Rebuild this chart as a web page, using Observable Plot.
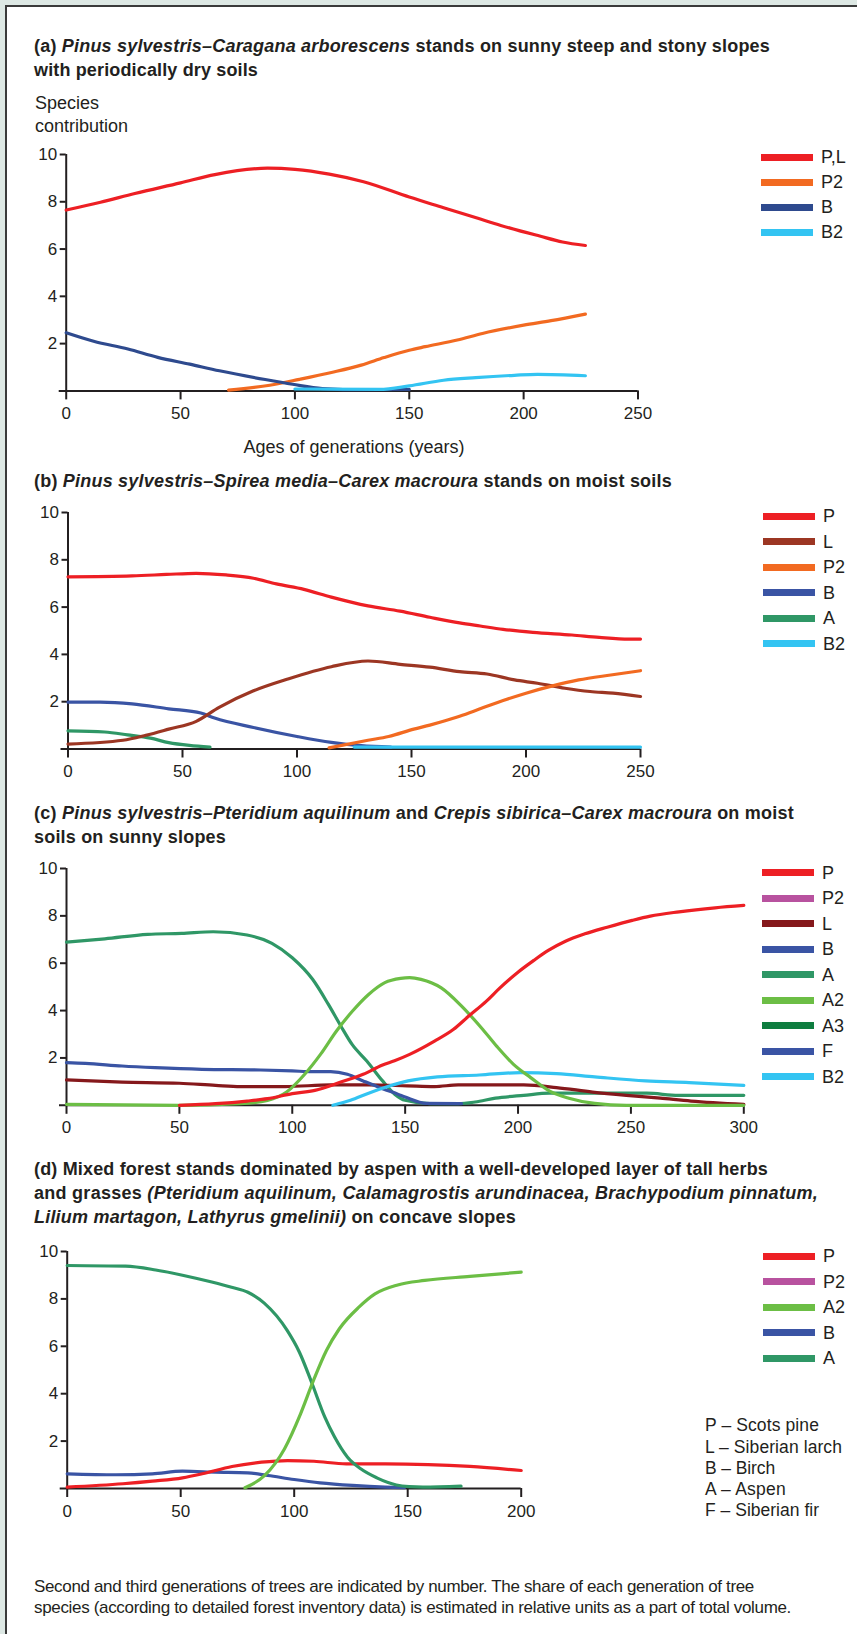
<!DOCTYPE html>
<html><head><meta charset="utf-8">
<script src="https://cdn.jsdelivr.net/npm/d3@7"></script>
<script src="https://cdn.jsdelivr.net/npm/@observablehq/plot@0.6"></script>
<style>
html,body{margin:0;padding:0;}
body{width:857px;height:1634px;background:#dde8e4;position:relative;overflow:hidden;font-family:"Liberation Sans",Arial,Helvetica,sans-serif;color:#231f20;}
#frame{position:absolute;left:5px;top:5px;width:900px;height:1700px;background:#fff;border-left:2px solid #3a3a3a;border-top:2px solid #3a3a3a;}
.abs{position:absolute;white-space:nowrap;}
.title{font-weight:bold;font-size:18px;line-height:24px;left:34px;}
.title span,.cap span,.key span{display:inline-block;white-space:nowrap;}
.lab{font-size:18px;line-height:23px;}
.cap{font-size:17px;line-height:21px;left:34px;}
.key{font-size:17.5px;line-height:21.3px;left:705px;}
.leg{position:absolute;font-size:18px;line-height:20px;height:20px;}
.leg .sw{position:absolute;left:0;top:6.5px;width:52px;height:7px;}
.leg .tx{position:absolute;left:60px;top:0;}
svg{overflow:visible;}
</style>
</head><body>
<div id="frame"></div>

<div class="abs title" style="top:34px"><span data-w="736">(a) <i>Pinus sylvestris–Caragana arborescens</i> stands on sunny steep and stony slopes</span><br><span data-w="224">with periodically dry soils</span></div>
<div class="abs lab" style="left:35px;top:91.5px">Species<br>contribution</div>
<div class="abs lab" style="left:354px;top:435.5px;transform:translateX(-50%)">Ages of generations (years)</div>

<div class="abs title" style="top:468.7px"><span data-w="638">(b) <i>Pinus sylvestris–Spirea media–Carex macroura</i> stands on moist soils</span></div>

<div class="abs title" style="top:801px"><span data-w="760">(c) <i>Pinus sylvestris–Pteridium aquilinum</i> and <i>Crepis sibirica–Carex macroura</i> on moist</span><br><span data-w="192">soils on sunny slopes</span></div>

<div class="abs title" style="top:1157px"><span data-w="734">(d) Mixed forest stands dominated by aspen with a well-developed layer of tall herbs</span><br><span data-w="784">and grasses <i>(Pteridium aquilinum, Calamagrostis arundinacea, Brachypodium pinnatum,</i></span><br><span data-w="482"><i>Lilium martagon, Lathyrus gmelinii)</i> on concave slopes</span></div>

<div class="abs key" style="top:1415.3px"><span data-w="114">P – Scots pine</span><br><span data-w="137">L – Siberian larch</span><br><span data-w="70">B – Birch</span><br><span data-w="81">A – Aspen</span><br><span data-w="114">F – Siberian fir</span></div>

<div class="abs cap" style="top:1576.2px"><span data-w="720">Second and third generations of trees are indicated by number. The share of each generation of tree</span><br><span data-w="757">species (according to detailed forest inventory data) is estimated in relative units as a part of total volume.</span></div>

<script>
// ---------------- DATA ----------------
const yTicks = [2, 4, 6, 8, 10];

// (a)
const namesA = ["P,L", "P2", "B", "B2"];
const colorsA = ["#ed1f24", "#f26a21", "#2e4a8e", "#33c4f2"];
const xTicksA = [0, 50, 100, 150, 200, 250];
const a_PL = [[0,7.65],[15,7.98],[30,8.35],[50,8.8],[65,9.15],[88,9.42],[100,9.37],[115,9.17],[130,8.85],[150,8.2],[165,7.75],[180,7.3],[190,7.0],[207,6.55],[217,6.3],[227,6.15]];
const a_P2 = [[71,0.03],[89,0.24],[102,0.49],[116,0.78],[129,1.09],[139,1.41],[150,1.72],[157,1.87],[171,2.15],[182,2.43],[200,2.78],[212,2.97],[227,3.25]];
const a_B = [[0,2.46],[12,2.1],[27,1.77],[40,1.42],[54,1.13],[67,0.85],[87,0.48],[99,0.28],[112,0.1],[130,0.05],[150,0.06]];
const a_B2 = [[100,0.08],[137,0.06],[150,0.21],[165,0.45],[179,0.56],[196,0.66],[206,0.7],[227,0.64]];

// (b)
const namesB = ["P", "L", "P2", "B", "A", "B2"];
const colorsB = ["#ed1f24", "#9c3623", "#f26a21", "#3a54a4", "#2f9766", "#33c4f2"];
const xTicksB = [0, 50, 100, 150, 200, 250];
const b_P = [[0,7.28],[28,7.32],[43,7.38],[56,7.43],[69,7.36],[81,7.22],[91,6.98],[103,6.75],[115,6.42],[131,6.05],[145,5.83],[158,5.57],[171,5.33],[180,5.2],[190,5.06],[203,4.93],[220,4.82],[232,4.72],[245,4.65],[250,4.65]];
const b_L = [[0,0.21],[24,0.37],[34,0.58],[44,0.84],[56,1.17],[66,1.76],[81,2.46],[96,2.96],[115,3.48],[131,3.72],[145,3.58],[158,3.46],[171,3.27],[183,3.17],[195,2.92],[205,2.78],[217,2.57],[228,2.43],[238,2.36],[250,2.22]];
const b_P2 = [[114,0.05],[131,0.37],[140,0.53],[151,0.84],[158,1.01],[170,1.35],[178,1.63],[190,2.05],[200,2.36],[212,2.68],[223,2.92],[237,3.13],[250,3.31]];
const b_B = [[0,1.98],[14,1.98],[28,1.91],[44,1.7],[58,1.52],[64,1.31],[81,0.91],[100,0.53],[115,0.28],[128,0.14],[141,0.08]];
const b_A = [[0,0.77],[16,0.72],[26,0.6],[36,0.46],[44,0.27],[53,0.15],[62,0.08]];
const b_B2 = [[125,0.08],[250,0.08]];

// (c)
const namesC = ["P", "P2", "L", "B", "A", "A2", "A3", "F", "B2"];
const colorsC = ["#ed1f24", "#b8529f", "#85181b", "#3a54a4", "#2f9766", "#6cbe45", "#0e7d3f", "#3a54a4", "#33c4f2"];
const xTicksC = [0, 50, 100, 150, 200, 250, 300];
const c_P = [[50,0],[66,0.07],[80,0.18],[89,0.28],[100,0.49],[110,0.63],[121.5,0.98],[131.4,1.31],[140,1.7],[145.3,1.88],[152,2.15],[163,2.71],[171.3,3.2],[178.2,3.77],[186,4.4],[192,4.96],[199.7,5.6],[207,6.12],[213.4,6.54],[221,6.93],[229.6,7.24],[239.5,7.52],[250.6,7.81],[258.6,7.99],[271.3,8.17],[287.3,8.34],[300,8.44]];
const c_L = [[0,1.07],[24.6,0.98],[50,0.93],[66,0.84],[77,0.79],[97,0.79],[117,0.86],[134,0.86],[151,0.82],[163,0.79],[173.5,0.86],[202.5,0.86],[217,0.75],[233,0.56],[248,0.42],[263,0.3],[276.6,0.18],[300,0.04]];
const c_B = [[0,1.8],[8.4,1.77],[24.6,1.66],[39.3,1.59],[60,1.52],[86,1.49],[100,1.45],[109,1.42],[117,1.42],[124.4,1.31],[131.4,1.03],[140,0.7],[147,0.46],[150,0.35],[159.4,0.08],[175,0.07]];
const c_A = [[0,6.89],[17,7.03],[36,7.22],[51,7.26],[65,7.33],[80,7.19],[91,6.84],[100,6.23],[109,5.32],[116,4.26],[121.5,3.35],[126.5,2.57],[133,1.87],[140,1.03],[145.5,0.46],[150,0.21],[161,0.07],[173.5,0.07],[181,0.14],[190,0.3],[202.5,0.42],[214,0.51],[228,0.51],[257,0.51],[271,0.42],[300,0.42]];
const c_A2 = [[0,0.04],[50,0],[77,0.07],[89,0.21],[97.5,0.56],[105.5,1.31],[112.5,2.15],[119.6,3.14],[126.7,3.98],[133.8,4.68],[141,5.18],[148,5.36],[152,5.39],[157,5.32],[166,4.96],[175,4.19],[184.4,3.2],[190.5,2.5],[198,1.73],[205.6,1.17],[214,0.6],[222.5,0.3],[234,0.08],[248,0],[300,0]];
const c_B2 = [[118,0],[125.8,0.21],[133.8,0.51],[142.3,0.79],[151.3,1.03],[164.3,1.2],[182.8,1.28],[201,1.38],[217,1.34],[234,1.2],[256.6,1.03],[275.8,0.96],[300,0.84]];

// (d)
const namesD = ["P", "P2", "A2", "B", "A"];
const colorsD = ["#ed1f24", "#b8529f", "#6cbe45", "#3a54a4", "#2f9766"];
const xTicksD = [0, 50, 100, 150, 200];
const d_A = [[0,9.41],[25.7,9.38],[39,9.22],[50.8,9.0],[63.7,8.71],[72.4,8.49],[79.6,8.28],[86.8,7.82],[96.9,6.67],[102.3,5.75],[107.9,4.42],[113.5,3.01],[117.8,2.17],[123.5,1.32],[129.3,0.83],[136.4,0.45],[145,0.15],[150.6,0.08],[156.7,0.06],[173.5,0.1]];
const d_A2 = [[78.3,0.03],[87,0.55],[95.7,1.67],[102.8,3.15],[108.5,4.56],[114.2,5.82],[119.9,6.74],[128.5,7.65],[135.6,8.21],[145.6,8.59],[157.5,8.78],[177.4,8.95],[200,9.13]];
const d_P = [[0,0.06],[24.6,0.2],[37.5,0.31],[50.8,0.45],[59.5,0.62],[72.6,0.93],[85.6,1.11],[97.1,1.18],[108.7,1.15],[123,1.04],[140,1.04],[159,1.01],[177.4,0.93],[200,0.76]];
const d_B = [[0,0.62],[21.4,0.58],[37.5,0.62],[50.8,0.73],[65.3,0.69],[79.6,0.66],[88.4,0.55],[100,0.38],[111.4,0.24],[125.7,0.13],[140,0.06],[148.6,0.04]];

// ---------------- BUILD ----------------
function rows(pairs) {
  const out = [];
  for (const [name, pts] of pairs) for (const [age, value] of pts) out.push({series: name, age, value});
  return out;
}
const ink = "#231f20";

function drawChart({data, names, colors, xmax, xticks, x0, x1, y10, y0}) {
  const mt = 10, mb = 40;
  const width = Math.ceil(x1) + 14;
  const chart = Plot.plot({
    width,
    height: (y0 - y10) + mt + mb,
    marginLeft: x0, marginRight: width - x1, marginTop: mt, marginBottom: mb,
    x: {domain: [0, xmax]},
    y: {domain: [0, 10]},
    color: {domain: names, range: colors},
    style: {fontFamily: '"Liberation Sans", Arial, Helvetica, sans-serif', fontSize: "17px", color: ink, background: "transparent", overflow: "visible"},
    marks: [
      Plot.ruleX([0], {stroke: ink, strokeWidth: 2}),
      Plot.ruleY([0], {stroke: ink, strokeWidth: 2, insetLeft: -7}),
      Plot.axisY({ticks: yTicks, tickSize: 6, tickPadding: 3, label: null, stroke: ink, strokeWidth: 2, strokeOpacity: 1, fill: ink}),
      Plot.axisX({ticks: xticks, tickSize: 9, tickPadding: 7, label: null, stroke: ink, strokeWidth: 2, strokeOpacity: 1, fill: ink}),
      Plot.line(data, {x: "age", y: "value", z: "series", stroke: "series", strokeWidth: 3.2, curve: "monotone-x", strokeLinejoin: "round"})
    ]
  });
  chart.style.position = "absolute";
  chart.style.left = "0px";
  chart.style.top = (y10 - mt) + "px";
  document.body.appendChild(chart);
}

function drawLegend(names, colors, x, yFirst, step) {
  names.forEach((n, i) => {
    const d = document.createElement("div");
    d.className = "leg";
    d.style.left = x + "px";
    d.style.top = (yFirst + i * step - 10) + "px";
    d.innerHTML = `<div class="sw" style="background:${colors[i]}"></div><div class="tx">${n}</div>`;
    document.body.appendChild(d);
  });
}

drawChart({data: rows([["P,L", a_PL], ["P2", a_P2], ["B", a_B], ["B2", a_B2]]), names: namesA, colors: colorsA, xmax: 250, xticks: xTicksA, x0: 65.7, x1: 637.5, y10: 154.3, y0: 390.7});
drawChart({data: rows([["A", b_A], ["B", b_B], ["L", b_L], ["P2", b_P2], ["B2", b_B2], ["P", b_P]]), names: namesB, colors: colorsB, xmax: 250, xticks: xTicksB, x0: 67.5, x1: 640, y10: 512, y0: 748.5});
drawChart({data: rows([["A", c_A], ["L", c_L], ["B", c_B], ["B2", c_B2], ["A2", c_A2], ["P", c_P]]), names: namesC, colors: colorsC, xmax: 300, xticks: xTicksC, x0: 66, x1: 743.3, y10: 867.5, y0: 1104.3});
drawChart({data: rows([["B", d_B], ["P", d_P], ["A", d_A], ["A2", d_A2]]), names: namesD, colors: colorsD, xmax: 200, xticks: xTicksD, x0: 66.7, x1: 520.7, y10: 1251, y0: 1488});

drawLegend(namesA, colorsA, 761, 157, 25);
drawLegend(namesB, colorsB, 763, 516, 25.5);
drawLegend(namesC, colorsC, 762, 872.7, 25.5);
drawLegend(namesD, colorsD, 763, 1256, 25.5);

// fit text lines to the measured widths of the reference
document.querySelectorAll("span[data-w]").forEach(s => {
  const target = +s.dataset.w;
  const w = s.getBoundingClientRect().width;
  const n = s.textContent.length;
  s.style.letterSpacing = ((target - w) / n).toFixed(3) + "px";
});
</script>
</body></html>
